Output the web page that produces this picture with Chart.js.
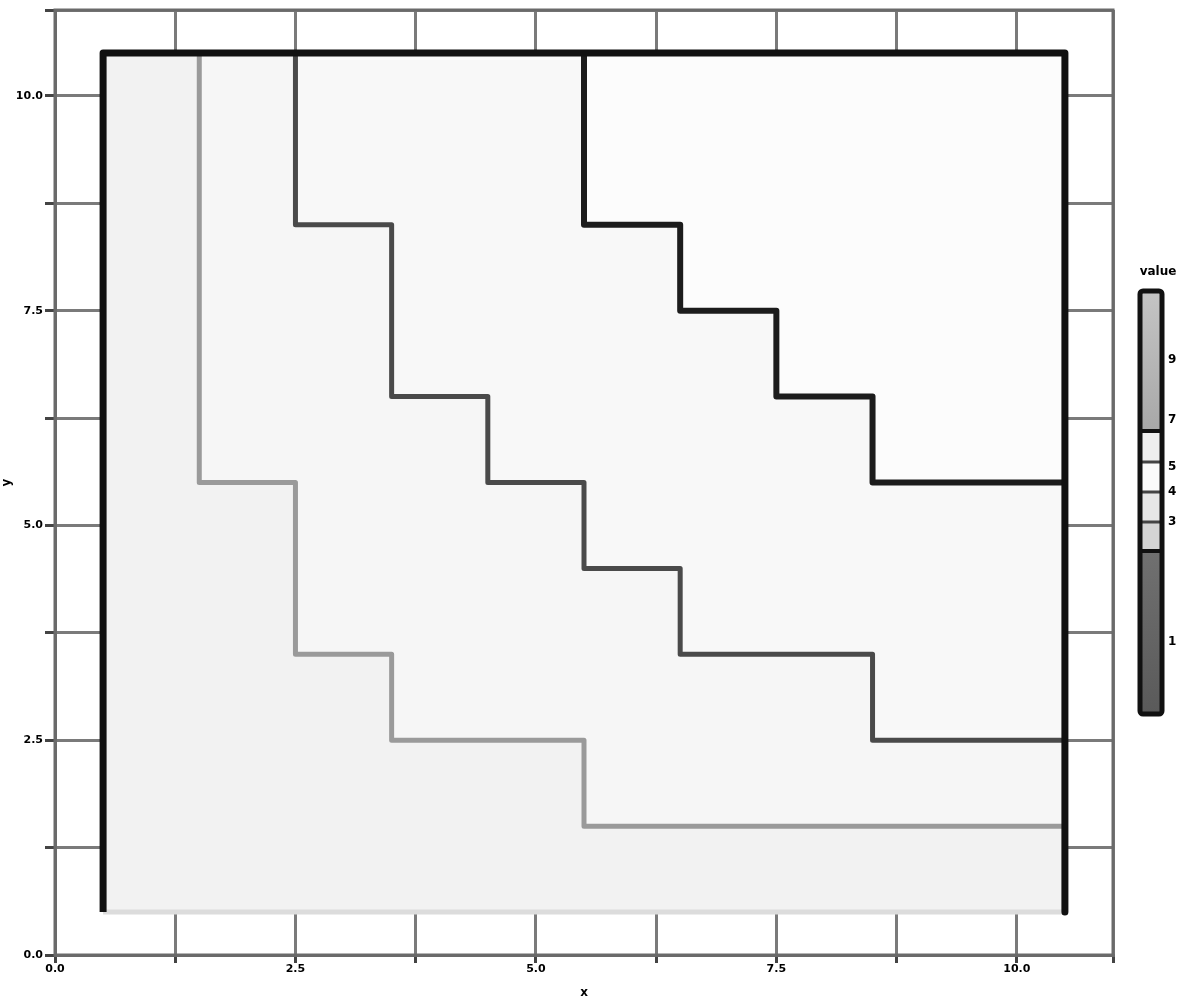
<!DOCTYPE html>
<html>
<head>
<meta charset="utf-8">
<script src="https://cdn.jsdelivr.net/npm/chart.js@4.4.1/dist/chart.umd.min.js"></script>
<style>
  html, body { margin: 0; padding: 0; background: #ffffff; }
  #wrap { width: 1200px; height: 1000px; }
</style>
</head>
<body>
<div id="wrap"><canvas id="myChart" width="1200" height="1000"></canvas></div>
<script>
// column centres of the grid, and the height of each level boundary in every column
const columns = [1, 2, 3, 4, 5, 6, 7, 8, 9, 10];
const edgeLow = [10.5, 5.5, 3.5, 2.5, 2.5, 1.5, 1.5, 1.5, 1.5, 1.5];
const edgeMid = [10.5, 10.5, 8.5, 6.5, 5.5, 4.5, 3.5, 3.5, 2.5, 2.5];
const edgeHigh = [10.5, 10.5, 10.5, 10.5, 10.5, 8.5, 7.5, 6.5, 5.5, 5.5];
const gridMin = 0.5;
const gridMax = 10.5;

// axis tick labels (every 2.5)
const xTickLabels = ['0.0', '2.5', '5.0', '7.5', '10.0'];
const yTickLabels = ['0.0', '2.5', '5.0', '7.5', '10.0'];

// colour bar
const barTitle = 'value';
const barLabels = ['9', '7', '5', '4', '3', '1'];

function stepPoints(edge) {
    const pts = columns.map((c, i) => ({x: c - 0.5, y: edge[i]}));
    pts.push({x: columns[columns.length - 1] + 0.5, y: edge[edge.length - 1]});
    return pts;
}
function flat(v) {
    return [{x: gridMin, y: v}, {x: gridMax, y: v}];
}

const ctx = document.getElementById('myChart');

const frameBox = {
    id: 'frameBox',
    beforeDatasetsDraw(chart) {
        const a = chart.chartArea;
        const c = chart.ctx;
        c.save();
        c.strokeStyle = '#6a6a6a';
        c.lineWidth = 3;
        c.strokeRect(a.left, a.top, a.right - a.left, a.bottom - a.top);
        c.restore();
    }
};

const colorBar = {
    id: 'colorBar',
    afterDraw(chart) {
        const c = chart.ctx;
        const x = 1140, w = 22;
        c.save();
        // top block
        let g = c.createLinearGradient(0, 292, 0, 430);
        g.addColorStop(0, '#c4c4c4');
        g.addColorStop(1, '#a8a8a8');
        c.fillStyle = g;
        c.fillRect(x, 292, w, 138);
        // middle cells
        const cells = ['#eeeeee', '#fafafa', '#e6e6e6', '#d4d4d4'];
        cells.forEach((col, i) => {
            c.fillStyle = col;
            c.fillRect(x, 432 + i * 30, w, 30);
        });
        c.strokeStyle = '#444';
        c.lineWidth = 3;
        for (let i = 1; i < 4; i++) {
            c.beginPath();
            c.moveTo(x, 432 + i * 30);
            c.lineTo(x + w, 432 + i * 30);
            c.stroke();
        }
        // bottom block
        g = c.createLinearGradient(0, 552, 0, 713);
        g.addColorStop(0, '#707070');
        g.addColorStop(1, '#5a5a5a');
        c.fillStyle = g;
        c.fillRect(x, 552, w, 161);
        c.strokeStyle = '#111';
        c.lineWidth = 4;
        c.beginPath();
        c.moveTo(x, 431); c.lineTo(x + w, 431);
        c.moveTo(x, 551); c.lineTo(x + w, 551);
        c.stroke();
        c.lineWidth = 5;
        c.beginPath();
        c.roundRect(x, 291, w, 423, 3);
        c.stroke();
        // labels
        c.fillStyle = '#000';
        c.font = 'bold 12px "DejaVu Sans"';
        c.textAlign = 'center';
        c.textBaseline = 'middle';
        c.fillText(barTitle, 1158, 272);
        c.textAlign = 'left';
        const ys = [360, 420, 467, 492, 522, 642];
        barLabels.forEach((t, i) => c.fillText(t, 1168, ys[i]));
        c.restore();
    }
};

function tickCb(labels) {
    return function (v) {
        const k = v / 2.5;
        if (Math.abs(k - Math.round(k)) < 1e-6 && labels[Math.round(k)] !== undefined) {
            return labels[Math.round(k)];
        }
        return '';
    };
}

const myChart = new Chart(ctx, {
    type: 'line',
    data: {
        datasets: [
            {
                label: 'frame',
                data: [{x: gridMin, y: gridMin}, {x: gridMin, y: gridMax}, {x: gridMax, y: gridMax}, {x: gridMax, y: gridMin}],
                borderColor: '#111111',
                borderWidth: 7,
                fill: false
            },
            {
                label: 'base',
                data: flat(gridMin),
                borderColor: '#dcdcdc',
                borderWidth: 5,
                fill: false
            },
            {
                label: 'low',
                data: stepPoints(edgeLow),
                stepped: true,
                borderColor: '#9a9a9a',
                backgroundColor: '#f2f2f2',
                borderWidth: 5,
                fill: '-1'
            },
            {
                label: 'mid',
                data: stepPoints(edgeMid),
                stepped: true,
                borderColor: '#4a4a4a',
                backgroundColor: '#f6f6f6',
                borderWidth: 5,
                fill: '-1'
            },
            {
                label: 'high',
                data: stepPoints(edgeHigh),
                stepped: true,
                borderColor: '#1c1c1c',
                backgroundColor: '#f8f8f8',
                borderWidth: 6,
                fill: '-1'
            },
            {
                label: 'top',
                data: flat(gridMax),
                borderColor: '#555555',
                backgroundColor: '#fcfcfc',
                borderWidth: 5,
                fill: '-1'
            }
        ]
    },
    options: {
        responsive: false,
        animation: false,
        parsing: true,
        elements: {point: {radius: 0}, line: {borderJoinStyle: 'round'}},
        layout: {padding: {top: 10, right: 87, left: 0, bottom: 0}},
        scales: {
            x: {
                type: 'linear',
                min: 0,
                max: 11,
                afterFit: (s) => { s.height = 45; },
                ticks: {stepSize: 1.25, autoSkip: false, maxRotation: 0, padding: 0,
                    color: '#000', font: {size: 11, weight: 'bold', family: 'DejaVu Sans'},
                    callback: tickCb(xTickLabels)},
                grid: {color: '#7a7a7a', lineWidth: 3, tickColor: '#444', tickLength: 8},
                border: {color: '#6a6a6a', width: 3},
                title: {display: true, text: 'x', color: '#000', padding: 0,
                    font: {size: 12, weight: 'bold', family: 'DejaVu Sans'}}
            },
            y: {
                type: 'linear',
                min: 0,
                max: 11,
                afterFit: (s) => { s.width = 55; },
                ticks: {stepSize: 1.25, autoSkip: false, padding: 2,
                    color: '#000', font: {size: 11, weight: 'bold', family: 'DejaVu Sans'},
                    callback: tickCb(yTickLabels)},
                grid: {color: '#7a7a7a', lineWidth: 3, tickColor: '#444', tickLength: 10},
                border: {color: '#6a6a6a', width: 3},
                title: {display: true, text: 'y', color: '#000', padding: 0,
                    font: {size: 12, weight: 'bold', family: 'DejaVu Sans'}}
            }
        },
        plugins: {
            legend: {display: false},
            tooltip: {enabled: false},
            filler: {drawTime: 'beforeDatasetsDraw'}
        }
    },
    plugins: [frameBox, colorBar]
});
</script>
</body>
</html>
